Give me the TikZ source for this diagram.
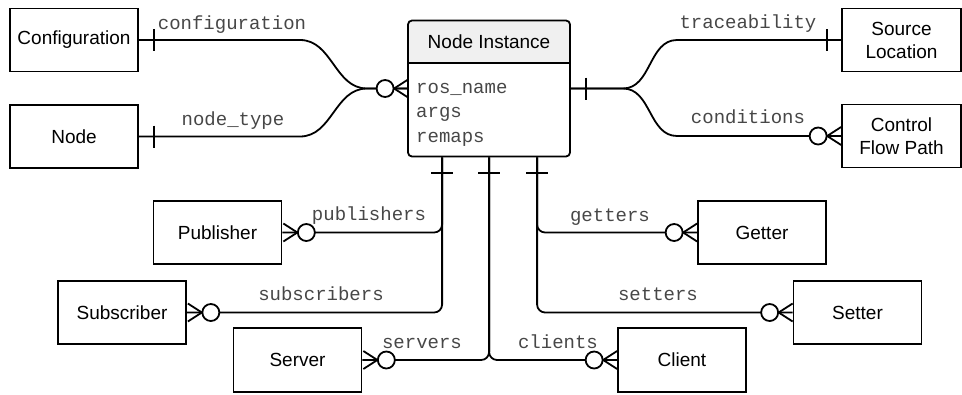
\documentclass[tikz,border=0pt]{standalone}
\usepackage{fontspec}
\setsansfont{Liberation Sans}
\setmonofont{Liberation Mono}
\usetikzlibrary{positioning}

\tikzset{
  entity/.style={draw, line width=1.7pt, minimum width=128pt, minimum height=63pt,
    inner sep=0pt, align=center, font=\fontsize{19}{23}\selectfont\sffamily},
  rel/.style={line width=1.8pt},
  lbl/.style={anchor=base, inner sep=0pt, text=black!72,
    font=\fontsize{19}{23}\selectfont\ttfamily},
  field/.style={anchor=base west, inner sep=0pt, text=black!72,
    font=\fontsize{19}{23}\selectfont\ttfamily},
  zeromany/.pic={
    \draw[line width=1.8pt] (14,-9) -- (0,0) -- (14,9);
    \draw[line width=1.8pt, fill=white] (-9,0) circle (8.5);
  },
  onlyone/.pic={
    \draw[line width=1.8pt] (0,-11) -- (0,11);
  }
}

\begin{document}
\begin{tikzpicture}[x=1pt,y=-1pt]
  \useasboundingbox (0,0) rectangle (962,394);

  % Header of the node instance table
  \fill[black!6] (408,63) -- (408,25) arc[start angle=180,end angle=270,radius=4]
    -- (566,21) arc[start angle=270,end angle=360,radius=4] -- (570,63) -- cycle;
  \node [draw, line width=1.8pt, rounded corners=4pt, minimum width=162pt,
    minimum height=136pt, inner sep=0pt] (ni) at (489,88.5) {};
  \draw [line width=1.6pt] (408,63) -- (570,63);
  \node [font=\fontsize{19}{23}\selectfont\sffamily] (nititle) at (489,42) {Node Instance};
  \node [field] (frosname) at (416,93) {ros\_name};
  \node [field] (fargs) at (416,117.5) {args};
  \node [field] (fremaps) at (416,142) {remaps};

  % Entities
  \node [entity] (cfg) at (74,40) {Configuration};
  \node [entity] (nodetype) at (74,136.5) {Node};
  \node [entity, minimum width=119pt] (src) at (901.5,40) {Source\\Location};
  \node [entity, minimum width=119pt] (cfp) at (901.5,136) {Control\\Flow Path};
  \node [entity] (pub) at (217.5,232.5) {Publisher};
  \node [entity] (sub) at (122,312.5) {Subscriber};
  \node [entity, minimum height=64pt] (srv) at (297.5,360) {Server};
  \node [entity, minimum height=64pt] (cli) at (682,360) {Client};
  \node [entity] (get) at (762,232.5) {Getter};
  \node [entity] (set) at (857.5,312.5) {Setter};

  % Drawing line configuration
  \draw [rel] (cfg.east) -- (300,40) to[out=0,in=180] (367,88.5) -- (ni.west);
  \pic at ([xshift=15pt]cfg.east) {onlyone};
  % Drawing line node_type
  \draw [rel] (nodetype.east) -- (300,136.5) to[out=0,in=180] (367,88.5) -- (ni.west);
  \pic at ([xshift=15pt]nodetype.east) {onlyone};
  \pic at ([xshift=-13pt]ni.west) {zeromany};

  % Drawing line traceability
  \draw [rel] (ni.east) -- (623,88.5) to[out=0,in=180] (677,40) -- (src.west);
  \pic at ([xshift=-14pt]src.west) {onlyone};
  % Drawing line conditions
  \draw [rel] (ni.east) -- (623,88.5) to[out=0,in=180] (677,136) -- (cfp.west);
  \pic at ([xshift=-14pt]cfp.west) {zeromany};
  \pic at ([xshift=15pt]ni.east) {onlyone};

  % Drawing lines publishers and subscribers
  \draw [rel, rounded corners=8pt] ([xshift=35pt]ni.south west) |- (pub.east);
  \draw [rel, rounded corners=8pt] ([xshift=35pt]ni.south west) |- (sub.east);
  \pic [rotate=180] at ([xshift=15pt]pub.east) {zeromany};
  \pic [rotate=180] at ([xshift=15pt]sub.east) {zeromany};
  \pic [rotate=90] at ([xshift=35pt,yshift=-15.5pt]ni.south west) {onlyone};

  % Drawing lines servers and clients
  \draw [rel, rounded corners=8pt] ([xshift=82pt]ni.south west) |- (srv.east);
  \draw [rel, rounded corners=8pt] ([xshift=82pt]ni.south west) |- (cli.west);
  \pic [rotate=180] at ([xshift=15pt]srv.east) {zeromany};
  \pic at ([xshift=-14pt]cli.west) {zeromany};
  \pic [rotate=90] at ([xshift=82pt,yshift=-15.5pt]ni.south west) {onlyone};

  % Drawing lines getters and setters
  \draw [rel, rounded corners=8pt] ([xshift=130pt]ni.south west) |- (get.west);
  \draw [rel, rounded corners=8pt] ([xshift=130pt]ni.south west) |- (set.west);
  \pic at ([xshift=-14pt]get.west) {zeromany};
  \pic at ([xshift=-14pt]set.west) {zeromany};
  \pic [rotate=90] at ([xshift=130pt,yshift=-15.5pt]ni.south west) {onlyone};

  % Labels of the lines
  \node [lbl] (lcfg) at (232,29) {configuration};
  \node [lbl] (lnodetype) at (233,125) {node\_type};
  \node [lbl] (ltrace) at (748,28) {traceability};
  \node [lbl] (lcond) at (748,123) {conditions};
  \node [lbl] (lpub) at (369,220) {publishers};
  \node [lbl] (lsub) at (321,300) {subscribers};
  \node [lbl] (lsrv) at (422,348) {servers};
  \node [lbl] (lcli) at (558,348) {clients};
  \node [lbl] (lget) at (610,221) {getters};
  \node [lbl] (lset) at (658,300) {setters};
\end{tikzpicture}
\end{document}
